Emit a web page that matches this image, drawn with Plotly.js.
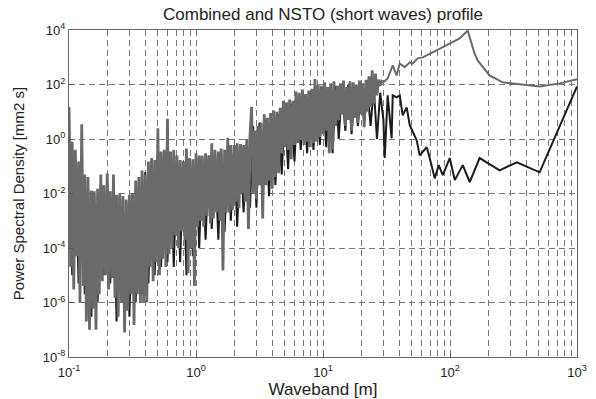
<!DOCTYPE html>
<html>
<head>
<meta charset="utf-8">
<script src="https://cdn.plot.ly/plotly-3.0.1.min.js"></script>
<style>html,body{margin:0;padding:0;background:#fff;}#chart{width:596px;height:399px;}</style>
</head>
<body>
<div id="chart"></div>
<script>
// Waveband [m] of the dense spectral part (shared by both profiles)
const xNoise = [
0.100,0.103,0.106,0.109,0.112,0.115,0.119,0.122,0.126,0.130,0.133,0.137,0.141,0.145,0.150,0.154,0.158,0.163,0.168,0.173,
0.178,0.183,0.188,0.194,0.200,0.205,0.211,0.218,0.224,0.230,0.237,0.244,0.251,0.259,0.266,0.274,0.282,0.290,0.299,0.307,
0.316,0.325,0.335,0.345,0.355,0.365,0.376,0.387,0.398,0.410,0.422,0.434,0.447,0.460,0.473,0.487,0.501,0.516,0.531,0.546,
0.562,0.579,0.596,0.613,0.631,0.649,0.668,0.688,0.708,0.729,0.750,0.772,0.794,0.818,0.841,0.866,0.891,0.917,0.944,0.972,
1.00,1.03,1.06,1.09,1.12,1.15,1.19,1.22,1.26,1.30,1.33,1.37,1.41,1.45,1.50,1.54,1.58,1.63,1.68,1.73,
1.78,1.83,1.88,1.94,2.00,2.05,2.11,2.18,2.24,2.30,2.37,2.44,2.51,2.59,2.66,2.74,2.82,2.90,2.99,3.07,
3.16,3.25,3.35,3.45,3.55,3.65,3.76,3.87,3.98,4.10,4.22,4.34,4.47,4.60,4.73,4.87,5.01,5.16,5.31,5.46,
5.62,5.79,5.96,6.13,6.31,6.49,6.68,6.88,7.08,7.29,7.50,7.72,7.94,8.18,8.41,8.66,8.91,9.17,9.44,9.72,
10.0,10.3,10.6,10.9,11.2,11.5,11.9,12.2,12.6,13.0,13.3,13.7,14.1,14.5,15.0,15.4,15.8,16.3,16.8,17.3,
17.8,18.3,18.8,19.4,20.0,20.5,21.1,21.8,22.4,23.0,23.7,24.4,25.1,25.9,26.6,27.4,28.2,29.0,29.9
];

// Combined profile PSD [mm2 s] over xNoise
const yCombinedNoise = [
15,2e-5,0.8,3e-6,0.4,5e-5,0.15,1e-6,3.5,4e-6,
0.05,2e-7,0.04,1e-7,0.013,6e-7,0.012,1e-7,0.015,2e-6,
0.05,6e-6,0.02,1e-5,0.055,3e-6,0.012,8e-6,0.05,1.5e-6,
0.009,3e-7,0.01,1e-6,0.008,8e-8,0.006,5e-7,0.009,2e-6,
0.01,1.5e-7,0.03,2e-6,0.04,1e-6,0.07,1e-6,0.05,1e-6,
0.15,2e-5,0.2,6e-6,0.17,3e-5,2.5,1e-5,0.35,4e-5,
0.4,2e-5,5.5,6e-5,0.35,1e-4,0.4,3e-4,0.25,1e-4,
0.17,4e-4,0.15,2e-4,0.45,1.2e-5,0.2,1e-4,0.18,4e-6,
0.3,6e-4,0.25,1e-3,0.25,6e-4,0.3,1.5e-3,0.25,8e-4,
0.7,1.2e-3,0.4,2e-3,0.35,1e-3,0.45,1.5e-5,0.4,2e-3,
1.1,2e-3,0.6,2.5e-3,0.6,5e-3,0.7,3e-3,0.65,0.01,
0.6,5e-3,1,5e-4,1.2,15,0.01,2,0.006,3,
0.02,4,1.2e-3,8,0.02,6,0.03,9,0.015,11,
0.04,10,0.055,14,0.3,25,0.5,22,0.4,28,
0.18,25,0.6,55,0.7,50,0.9,65,0.6,45,
0.8,60,0.5,70,0.7,160,0.8,100,1.2,90,
1.5,120,2,80,0.3,110,0.4,130,3,90,
5,110,8,140,3,80,5,130,2,120,
6,100,4,140,8,110,2.7,150,10,200,
15,330,20,250,40,150,90,130,120
];

// Combined profile, long-wave part
const xCombinedTail = [32.3,35.4,38.0,40.2,44.0,48.2,50.9,55.7,61.0,73.1,94.2,119,138,156,165,205,260,354,508,731,1000];
const yCombinedTail = [166,500,215,590,430,650,590,910,990,1500,2700,4900,9500,1380,760,215,120,100,85,110,155];

// NSTO profile PSD over every second waveband of xNoise
const yNstoNoise = [
8,1e-5,0.3,5e-6,0.1,2e-6,0.03,3e-7,0.01,1e-6,
0.02,1e-5,0.03,5e-6,0.02,2e-7,0.008,1e-6,0.005,3e-7,
0.01,1e-6,0.03,2e-6,0.06,5e-6,0.15,1e-5,0.3,2e-5,
0.3,3e-5,0.3,2e-5,0.2,3e-5,0.15,1e-5,0.2,5e-5,
0.25,1e-4,0.2,2e-4,0.2,5e-4,0.35,2e-4,0.3,4e-4,
0.5,1e-3,0.5,6e-4,0.5,2e-3,0.6,3e-3,3,3e-3,
4,5e-3,5,8e-3,6,0.02,8,0.05,15,0.08,
20,0.15,30,0.4,40,0.3,50,0.4,60,0.6,
80,0.5,60,0.3,90,1,80,2,100,1.5,
70,3,90,4,60,3,80,1,50,5
];

// NSTO profile, long-wave part
const xNstoTail = [30.6,32.3,34.7,35.4,38.0,40.2,42.4,45.6,48.2,50.9,54.7,57.7,61.0,65.6,69.2,75.8,81.5,87.7,99.6,109,126,143,171,246,336,508,1000];
const yNstoTail = [0.2,40,1.06,40,34,40,7.4,14.5,3.2,1.76,0.9,0.25,0.33,0.5,0.2,0.036,0.11,0.047,0.2,0.031,0.11,0.026,0.2,0.071,0.14,0.06,85];

// Axis ticks
const xTickVals = [0.1,1,10,100,1000];
const xTickText = ['10<sup>-1</sup>','10<sup>0</sup>','10<sup>1</sup>','10<sup>2</sup>','10<sup>3</sup>'];
const xMinorVals = [0.2,0.3,0.4,0.5,0.6,0.7,0.8,0.9,2,3,4,5,6,7,8,9,20,30,40,50,60,70,80,90,200,300,400,500,600,700,800,900];
const yTickVals = [1e-8,1e-6,1e-4,1e-2,1,1e2,1e4];
const yTickText = ['10<sup>-8</sup>','10<sup>-6</sup>','10<sup>-4</sup>','10<sup>-2</sup>','10<sup>0</sup>','10<sup>2</sup>','10<sup>4</sup>'];

const xNsto = xNoise.filter((v, i) => i % 2 === 0).concat(xNstoTail);
const yNsto = yNstoNoise.concat(yNstoTail);
const lastIdx = xNoise.length - 1;
const xCombTail = [xNoise[lastIdx]].concat(xCombinedTail);
const yCombTail = [yCombinedNoise[lastIdx]].concat(yCombinedTail);

const grey = '#6a6a6a';
const traces = [
  {x: xNsto, y: yNsto, type: 'scatter', mode: 'lines', name: 'NSTO',
   line: {color: '#1c1c1c', width: 2}},
  {x: xNoise, y: yCombinedNoise, type: 'scatter', mode: 'lines', name: 'Combined',
   line: {color: grey, width: 2.8}},
  {x: xCombTail, y: yCombTail, type: 'scatter', mode: 'lines', name: 'Combined',
   line: {color: grey, width: 2}}
];

const gridDash = '6px,4px';
const layout = {
  width: 596, height: 399,
  margin: {l: 69, r: 19, t: 30, b: 42},
  paper_bgcolor: '#ffffff', plot_bgcolor: '#ffffff',
  showlegend: false,
  font: {family: '"Liberation Sans", Arial, sans-serif', color: '#222', size: 13},
  title: {text: 'Combined and NSTO (short waves) profile', font: {size: 17, color: '#222'},
          x: 0.5, xref: 'paper', xanchor: 'center', y: 0.965, yref: 'container', yanchor: 'middle'},
  xaxis: {
    type: 'log', range: [-1, 3], autorange: false,
    tickmode: 'array', tickvals: xTickVals, ticktext: xTickText,
    ticks: 'inside', ticklen: 4, tickcolor: '#555', ticklabelstandoff: 3,
    showgrid: true, gridcolor: '#777', griddash: gridDash, gridwidth: 1,
    minor: {tickmode: 'array', tickvals: xMinorVals, showgrid: true, gridcolor: '#777', griddash: gridDash, gridwidth: 1, ticks: ''},
    showline: true, mirror: true, linecolor: '#666', linewidth: 1,
    zeroline: false, tickfont: {size: 13},
    title: {text: 'Waveband [m]', font: {size: 17}, standoff: 6}
  },
  yaxis: {
    type: 'log', range: [-8, 4], autorange: false,
    tickmode: 'array', tickvals: yTickVals, ticktext: yTickText,
    ticks: 'inside', ticklen: 4, tickcolor: '#555',
    showgrid: true, gridcolor: '#777', griddash: gridDash, gridwidth: 1,
    showline: true, mirror: true, linecolor: '#666', linewidth: 1,
    zeroline: false, tickfont: {size: 13},
    title: {text: 'Power Spectral Density [mm2 s]', font: {size: 15}, standoff: 14}
  }
};

Plotly.newPlot('chart', traces, layout, {staticPlot: true, displayModeBar: false});
</script>
</body>
</html>
